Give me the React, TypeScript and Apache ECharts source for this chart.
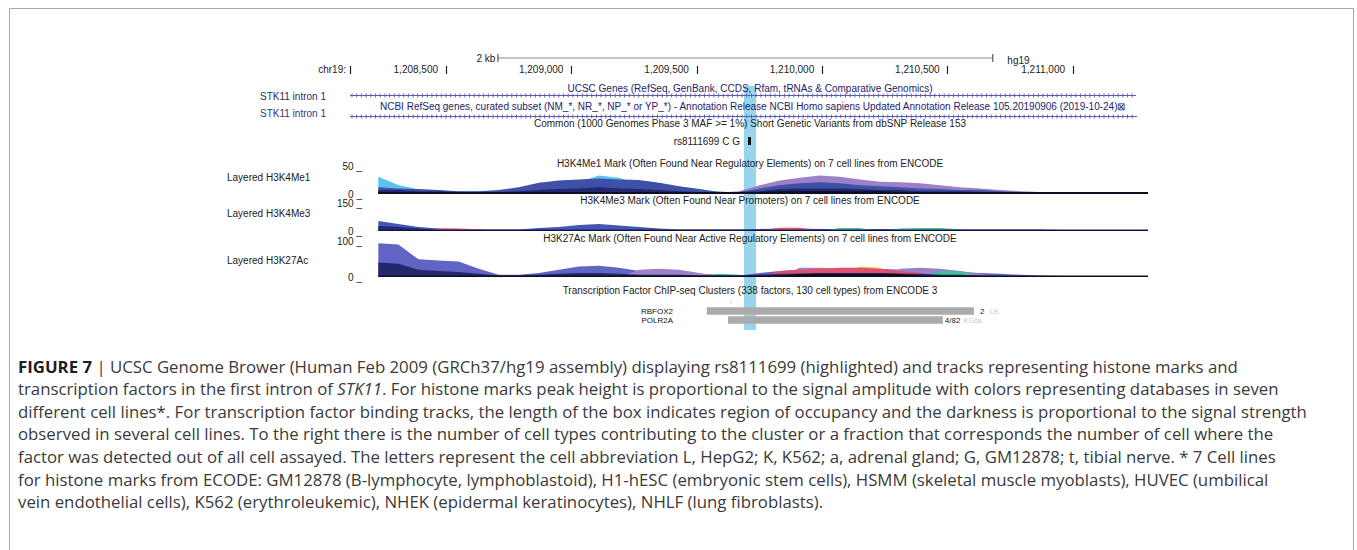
import React, { useEffect, useRef } from "react";
import * as echarts from "echarts";

// ---------- data ----------
const VIEW_START = 1208117;
const VIEW_END = 1211299;
const RULER_TICKS = [1208500, 1209000, 1209500, 1210000, 1210500, 1211000];
const SCALE_BAR = [1208707, 1210680];
const GENE_ROWS = ["UCSC Genes", "NCBI RefSeq"];
const GENE_START = [1208117, 1208117];
const GENE_END = [1211251, 1211255];
const SNP_NAME = "rs8111699 C G";
const SNP_RANGE = [1209704, 1209716];
const HIGHLIGHT = [1209688, 1209736];

const BIN_POS = [
  1208230, 1208310, 1208390, 1208470, 1208550, 1208630, 1208710, 1208790, 1208870, 1208950,
  1209030, 1209110, 1209190, 1209270, 1209350, 1209430, 1209510, 1209590, 1209670, 1209750,
  1209830, 1209910, 1209990, 1210070, 1210150, 1210230, 1210310, 1210390, 1210470, 1210550,
  1210630, 1210710, 1210790, 1210870, 1210950, 1211030, 1211110, 1211190, 1211270, 1211299,
];

// H3K4Me1 (0-50)
const ME1_NHEK = [5, 5, 5, 3.5, 3.5, 3.5, 5, 9, 14, 19, 24, 27.5, 24, 19, 14, 9, 5, 2.5, 5, 15.5, 24, 29, 33, 31, 26, 22, 21, 19, 15.5, 12, 10, 7, 5, 3.5, 3.5, 2.5, 2.5, 2.5, 2.5, 2.5];
const ME1_HUVEC = [31, 16, 8, 5, 5, 5, 5, 5, 7, 12, 22, 33, 29, 17, 10, 7, 5, 5, 2, 3.5, 3.5, 3.5, 3.5, 3.5, 3.5, 3.5, 3.5, 3.5, 3.5, 3.5, 3.5, 3.5, 3.5, 3.5, 3.5, 3.5, 3.5, 3.5, 3.5, 3.5];
const ME1_K562 = [12, 10, 9, 7, 5, 5, 7, 12, 20, 24, 26, 27.5, 26, 25, 20, 14, 9, 3.5, 3.5, 10, 15.5, 19, 21, 19, 15.5, 14, 12, 10, 9, 7, 7, 5, 3.5, 3.5, 3.5, 3.5, 2.5, 2.5, 2.5, 2.5];
const ME1_HSMM = [7, 7, 5, 5, 3.5, 3.5, 3.5, 5, 7, 9, 10, 12, 10, 9, 7, 5, 3.5, 3.5, 3.5, 5, 9, 10, 10, 10, 9, 7, 7, 5, 5, 5, 3.5, 3.5, 3.5, 3.5, 2.5, 2.5, 2.5, 2.5, 2.5, 2.5];
const ME1_GM = [3.5, 3.5, 3.5, 3.5, 3.5, 3.5, 3.5, 3.5, 3.5, 3.5, 3.5, 3.5, 3.5, 3.5, 3.5, 3.5, 3.5, 3.5, 3.5, 3.5, 5, 5, 5, 5, 5, 5, 3.5, 3.5, 3.5, 3.5, 3.5, 3.5, 3.5, 3.5, 3.5, 3.5, 3.5, 3.5, 3.5, 3.5];

// H3K4Me3 (0-150)
const ME3_K562 = [54, 38, 21, 13, 11, 8, 8, 8, 16, 21, 32, 38, 30, 21, 13, 8, 8, 8, 8, 11, 13, 13, 11, 11, 11, 11, 11, 11, 11, 8, 8, 8, 8, 8, 5, 5, 5, 5, 5, 5];
const ME3_GM = [0, 0, 0, 13, 13, 10, 0, 0, 0, 0, 0, 0, 0, 0, 0, 0, 0, 0, 0, 0, 18, 18, 0, 0, 0, 0, 0, 0, 0, 0, 0, 0, 0, 0, 0, 0, 0, 0, 0, 0];
const ME3_HSMM = [0, 0, 0, 0, 0, 0, 0, 0, 0, 0, 0, 0, 0, 0, 0, 0, 0, 0, 0, 0, 0, 0, 0, 16, 16, 0, 13, 16, 16, 10, 0, 0, 0, 0, 0, 0, 0, 0, 0, 0];
const ME3_NHLF = [27, 21, 13, 8, 8, 8, 8, 8, 8, 8, 8, 8, 8, 8, 8, 8, 8, 8, 8, 8, 8, 8, 8, 8, 8, 8, 8, 8, 8, 8, 8, 8, 8, 8, 8, 8, 8, 8, 8, 8];
const ME3_H1 = [4, 4, 4, 4, 4, 4, 4, 4, 4, 4, 4, 4, 4, 4, 4, 4, 4, 4, 4, 4, 4, 4, 4, 4, 4, 4, 4, 4, 4, 4, 4, 4, 4, 4, 4, 4, 4, 4, 4, 4];

// H3K27Ac (0-100)
const AC_K562 = [94, 90, 49, 46, 43, 23, 6, 6, 11, 20, 29, 31, 26, 17, 17, 14, 9, 6, 4, 11, 17, 20, 23, 23, 23, 23, 20, 20, 17, 14, 11, 9, 6, 4, 3, 3, 3, 3, 3, 3];
const AC_NHEK = [0, 0, 0, 0, 0, 0, 0, 0, 0, 0, 0, 0, 0, 20, 23, 20, 11, 0, 0, 0, 0, 26, 26, 23, 0, 0, 23, 26, 23, 17, 9, 0, 0, 0, 0, 0, 0, 0, 0, 0];
const AC_H1 = [0, 0, 0, 0, 0, 0, 0, 0, 0, 0, 0, 0, 0, 0, 0, 0, 0, 0, 0, 0, 0, 0, 0, 0, 29, 26, 0, 0, 0, 0, 0, 0, 0, 0, 0, 0, 0, 0, 0, 0];
const AC_GM = [0, 0, 0, 0, 0, 0, 0, 0, 0, 0, 0, 0, 0, 0, 0, 0, 0, 0, 0, 0, 17, 20, 23, 26, 26, 23, 17, 11, 0, 0, 0, 0, 0, 0, 0, 0, 0, 0, 0, 0];
const AC_HSMM = [0, 0, 0, 0, 0, 0, 0, 0, 0, 0, 0, 0, 0, 0, 0, 0, 0, 9, 6, 0, 0, 0, 0, 0, 0, 0, 0, 0, 17, 17, 0, 0, 0, 0, 0, 0, 0, 0, 0, 0];
const AC_NHLF = [40, 37, 20, 17, 14, 9, 4, 4, 6, 9, 11, 11, 9, 6, 6, 6, 4, 4, 4, 6, 9, 9, 11, 11, 11, 11, 9, 9, 6, 6, 4, 3, 3, 3, 3, 3, 3, 3, 3, 3];
const AC_HUVEC = [4, 4, 4, 4, 4, 4, 4, 4, 4, 4, 4, 4, 4, 4, 4, 4, 4, 4, 4, 4, 4, 9, 9, 9, 9, 9, 9, 4, 4, 4, 4, 4, 4, 4, 4, 4, 4, 4, 4, 4];

const TF_NAMES = ["RBFOX2", "POLR2A"];
const TF_START = [1209540, 1209624];
const TF_END = [1210605, 1210481];
const TF_SCORE = ["2", "4/82"];
const TF_CELLS = ["LK", "KGta"];

const CAPTION = [
  "{b|FIGURE 7} | UCSC Genome Brower (Human Feb 2009 (GRCh37/hg19 assembly) displaying rs8111699 (highlighted) and tracks representing histone marks and",
  "transcription factors in the first intron of {i|STK11}. For histone marks peak height is proportional to the signal amplitude with colors representing databases in seven",
  "different cell lines*. For transcription factor binding tracks, the length of the box indicates region of occupancy and the darkness is proportional to the signal strength",
  "observed in several cell lines. To the right there is the number of cell types contributing to the cluster or a fraction that corresponds the number of cell where the",
  "factor was detected out of all cell assayed. The letters represent the cell abbreviation L, HepG2; K, K562; a, adrenal gland; G, GM12878; t, tibial nerve. * 7 Cell lines",
  "for histone marks from ECODE: GM12878 (B-lymphocyte, lymphoblastoid), H1-hESC (embryonic stem cells), HSMM (skeletal muscle myoblasts), HUVEC (umbilical",
  "vein endothelial cells), K562 (erythroleukemic), NHEK (epidermal keratinocytes), NHLF (lung fibroblasts).",
];

// ---------- styles ----------
const FONT = "'Liberation Sans', Arial, sans-serif";
const CAP_FONT = "'Open Sans', 'Liberation Sans', Arial, sans-serif";
const CAP_SIZE = 16.8;
const GENE_COLOR = "#5a5ab2";
const NAVY_TXT = "#1d1d6a";
const DARK_TXT = "#1b1b1b";

function buildOption() {
  const L = 350;
  const R = 1357 - 1148;
  const gridDefs = [
    { top: 54, height: 8 }, // 0 scale bar
    { top: 60, height: 14 }, // 1 ruler
    { top: 86, height: 244 }, // 2 highlight
    { top: 85, height: 42 }, // 3 genes
    { top: 137, height: 8 }, // 4 snp
    { top: 166, height: 28 }, // 5 H3K4Me1
    { top: 203, height: 28 }, // 6 H3K4Me3
    { top: 241, height: 36 }, // 7 H3K27Ac
    { top: 306.5, height: 18 }, // 8 TF
  ];
  const grid = gridDefs.map((g) => ({ ...g, left: L, right: R }));

  const xAxis: any[] = gridDefs.map((_, i) => ({
    gridIndex: i,
    type: "value",
    min: VIEW_START,
    max: VIEW_END,
    show: false,
  }));
  xAxis[1] = {
    gridIndex: 1,
    type: "value",
    min: VIEW_START,
    max: VIEW_END,
    position: "bottom",
    axisLine: { show: false },
    splitLine: { show: false },
    axisTick: {
      show: true,
      inside: true,
      length: 8,
      lineStyle: { color: "#222", width: 1.2 },
      customValues: [VIEW_START, ...RULER_TICKS],
    },
    axisLabel: {
      show: true,
      customValues: [VIEW_START, ...RULER_TICKS],
      showMinLabel: true,
      showMaxLabel: true,
      margin: -10,
      align: "right",
      formatter: (v: number) =>
        v === VIEW_START ? "{c|chr19:}" : "{n|" + v.toLocaleString("en-US") + "}",
      rich: {
        c: { padding: [0, 4, 0, 0], fontSize: 10, color: DARK_TXT, fontFamily: FONT },
        n: { padding: [0, 8, 0, 0], fontSize: 10, color: DARK_TXT, fontFamily: FONT },
      },
    },
  };

  const hiddenY = (i: number) => ({ gridIndex: i, type: "value", min: 0, max: 1, show: false });
  const trackY = (i: number, max: number) => ({
    gridIndex: i,
    type: "value",
    min: 0,
    max,
    interval: max,
    offset: -12,
    axisLine: { show: false },
    axisTick: { show: false },
    splitLine: { show: false },
    axisLabel: {
      margin: 0,
      formatter: (v: number) => v + " _",
      fontSize: 10,
      color: DARK_TXT,
      fontFamily: FONT,
      verticalAlign: "middle",
      padding: [0, 0, 6, 0],
    },
  });
  const yAxis: any[] = [
    hiddenY(0),
    hiddenY(1),
    hiddenY(2),
    { gridIndex: 3, type: "category", data: GENE_ROWS, inverse: true, show: false },
    hiddenY(4),
    trackY(5, 50),
    trackY(6, 150),
    trackY(7, 100),
    {
      gridIndex: 8,
      type: "category",
      data: TF_NAMES,
      inverse: true,
      offset: -323,
      axisLine: { show: false },
      axisTick: { show: false },
      splitLine: { show: false },
      axisLabel: { interval: 0, margin: 0, fontSize: 8, lineHeight: 8, color: "#111", fontFamily: FONT },
    },
  ];

  const layer = (gi: number, values: number[], color: string) => ({
    type: "line",
    xAxisIndex: gi,
    yAxisIndex: gi,
    data: BIN_POS.map((p, i) => [p, values[i]]),
    symbol: "none",
    showSymbol: false,
    silent: true,
    lineStyle: { width: 0 },
    areaStyle: { color, opacity: 1 },
    z: 3,
  });

  const series: any[] = [
    // highlight band
    {
      type: "custom",
      xAxisIndex: 2,
      yAxisIndex: 2,
      z: 1,
      silent: true,
      data: [[HIGHLIGHT[0], HIGHLIGHT[1]]],
      encode: { x: [0, 1] },
      renderItem: (params: any, api: any) => {
        const cs = params.coordSys;
        const a = api.coord([api.value(0), 0.5]);
        const b = api.coord([api.value(1), 0.5]);
        return {
          type: "rect",
          shape: { x: a[0], y: cs.y, width: b[0] - a[0], height: cs.height },
          style: { fill: "#98d5ed" },
        };
      },
    },
    // scale bar
    {
      type: "line",
      xAxisIndex: 0,
      yAxisIndex: 0,
      silent: true,
      symbol: "rect",
      symbolSize: [1.2, 8],
      itemStyle: { color: "#555" },
      lineStyle: { color: "#888", width: 1 },
      data: [
        {
          value: [SCALE_BAR[0], 0.5],
          label: { show: true, position: "left", distance: 2, formatter: "2 kb", fontSize: 10, color: DARK_TXT, fontFamily: FONT },
        },
        {
          value: [SCALE_BAR[1], 0.5],
          label: { show: true, position: "right", distance: 14, offset: [0, 2], formatter: "hg19", fontSize: 10, color: DARK_TXT, fontFamily: FONT },
        },
      ],
    },
    // genes
    {
      type: "custom",
      xAxisIndex: 3,
      yAxisIndex: 3,
      silent: true,
      z: 3,
      data: GENE_ROWS.map((_, i) => [GENE_START[i], GENE_END[i], i]),
      encode: { x: [0, 1], y: 2 },
      renderItem: (params: any, api: any) => {
        const s = api.coord([api.value(0), api.value(2)]);
        const e = api.coord([api.value(1), api.value(2)]);
        const y = s[1];
        const children: any[] = [
          { type: "line", shape: { x1: s[0], y1: y, x2: e[0], y2: y }, style: { stroke: GENE_COLOR, lineWidth: 1 } },
        ];
        for (let x = s[0] + 2; x < e[0] - 1; x += 4.7) {
          children.push({
            type: "line",
            shape: { x1: x, y1: y - 2, x2: x, y2: y + 2 },
            style: { stroke: GENE_COLOR, lineWidth: 0.9 },
          });
        }
        return { type: "group", children };
      },
    },
    // SNP
    {
      type: "custom",
      xAxisIndex: 4,
      yAxisIndex: 4,
      silent: true,
      z: 3,
      data: [[SNP_RANGE[0], SNP_RANGE[1]]],
      encode: { x: [0, 1] },
      renderItem: (params: any, api: any) => {
        const a = api.coord([api.value(0), 1]);
        const b = api.coord([api.value(1), 0]);
        return {
          type: "group",
          children: [
            { type: "rect", shape: { x: a[0], y: a[1], width: b[0] - a[0], height: b[1] - a[1] }, style: { fill: "#111" } },
            {
              type: "text",
              x: a[0] - 8,
              y: (a[1] + b[1]) / 2,
              style: { text: SNP_NAME, fill: DARK_TXT, fontSize: 10, fontFamily: FONT, align: "right", verticalAlign: "middle" },
            },
          ],
        };
      },
    },
    // H3K4Me1
    layer(5, ME1_NHEK, "#9c80c8"),
    layer(5, ME1_HUVEC, "#5ac4ef"),
    layer(5, ME1_K562, "#3e50a8"),
    layer(5, ME1_HSMM, "#23276b"),
    layer(5, ME1_GM, "#0d0d24"),
    // H3K4Me3
    layer(6, ME3_K562, "#4356b4"),
    layer(6, ME3_GM, "#e0506c"),
    layer(6, ME3_HSMM, "#40bf9e"),
    layer(6, ME3_NHLF, "#23276b"),
    layer(6, ME3_H1, "#0d0d24"),
    // H3K27Ac
    layer(7, AC_K562, "#6064c4"),
    layer(7, AC_NHEK, "#9c80c8"),
    layer(7, AC_H1, "#f1c24c"),
    layer(7, AC_GM, "#e0506c"),
    layer(7, AC_HSMM, "#40bf9e"),
    layer(7, AC_NHLF, "#23276b"),
    layer(7, AC_HUVEC, "#0d0d24"),
    // TF clusters
    {
      type: "custom",
      xAxisIndex: 8,
      yAxisIndex: 8,
      silent: true,
      z: 3,
      data: TF_NAMES.map((_, i) => [TF_START[i], TF_END[i], i]),
      encode: { x: [0, 1], y: 2 },
      renderItem: (params: any, api: any) => {
        const i = params.dataIndex;
        const s = api.coord([api.value(0), api.value(2)]);
        const e = api.coord([api.value(1), api.value(2)]);
        const h = 7.5;
        return {
          type: "group",
          children: [
            { type: "rect", shape: { x: s[0], y: s[1] - h / 2, width: e[0] - s[0], height: h }, style: { fill: "#ababab" } },
            {
              type: "text",
              x: e[0] + (i === 0 ? 6 : 2),
              y: s[1],
              style: {
                text: "{a|" + TF_SCORE[i] + "}{b|" + TF_CELLS[i] + "}",
                align: "left",
                verticalAlign: "middle",
                rich: {
                  a: { fontSize: 8, lineHeight: 7, fontFamily: FONT, fill: "#222" },
                  b: { fontSize: 8, lineHeight: 7, fontFamily: FONT, fill: "#c8c8c8", padding: [0, 0, 0, i === 0 ? 5 : 3] },
                },
              },
            },
          ],
        };
      },
    },
  ];

  const txt = (text: string, x: number, y: number, opts: any = {}) => ({
    type: "text",
    x,
    y,
    z: 10,
    silent: true,
    style: {
      text,
      fill: opts.fill || DARK_TXT,
      fontSize: opts.fontSize || 10,
      fontFamily: opts.fontFamily || FONT,
      fontWeight: opts.fontWeight || "normal",
      align: opts.align || "left",
      verticalAlign: "middle",
      ...(opts.rich ? { rich: opts.rich } : {}),
    },
  });

  const CX = 750;
  const capRich = {
    b: { fontWeight: "bold", fontSize: CAP_SIZE, fontFamily: CAP_FONT, fill: "#1e1e1e" },
    i: { fontStyle: "italic", fontSize: CAP_SIZE, fontFamily: CAP_FONT, fill: "#3a3a3a" },
  };

  const graphic: any[] = [
    {
      type: "rect",
      z: 0,
      silent: true,
      shape: { x: 9.5, y: 8.5, width: 1344, height: 600 },
      style: { fill: "none", stroke: "#a9a9a9", lineWidth: 1 },
    },
    txt("UCSC Genes (RefSeq, GenBank, CCDS, Rfam, tRNAs & Comparative Genomics)", CX, 88.5, { align: "center", fill: NAVY_TXT }),
    txt("NCBI RefSeq genes, curated subset (NM_*, NR_*, NP_* or YP_*) - Annotation Release NCBI Homo sapiens Updated Annotation Release 105.20190906 (2019-10-24)\u22A0", 380, 106, { fill: NAVY_TXT }),
    txt("Common (1000 Genomes Phase 3 MAF >= 1%) Short Genetic Variants from dbSNP Release 153", CX, 123.5, { align: "center" }),
    txt("H3K4Me1 Mark (Often Found Near Regulatory Elements) on 7 cell lines from ENCODE", CX, 163, { align: "center" }),
    txt("H3K4Me3 Mark (Often Found Near Promoters) on 7 cell lines from ENCODE", CX, 200, { align: "center" }),
    txt("H3K27Ac Mark (Often Found Near Active Regulatory Elements) on 7 cell lines from ENCODE", CX, 238, { align: "center" }),
    txt("Transcription Factor ChIP-seq Clusters (338 factors, 130 cell types) from ENCODE 3", CX, 290, { align: "center" }),
    txt("STK11 intron 1", 260, 96, { fill: "#2d2d5e" }),
    txt("STK11 intron 1", 260, 113, { fill: "#34348c" }),
    txt("Layered H3K4Me1", 227, 177),
    txt("Layered H3K4Me3", 227, 213),
    txt("Layered H3K27Ac", 227, 260),
    txt("t", 730, 301, { fill: "#d0d0d0", fontSize: 7 }),
    ...CAPTION.map((line, k) =>
      txt(line, 18, 366 + k * 22.6, { fontSize: CAP_SIZE, fontFamily: CAP_FONT, fill: "#3a3a3a", rich: capRich })
    ),
  ];

  return {
    animation: false,
    backgroundColor: "#ffffff",
    grid,
    xAxis,
    yAxis,
    series,
    graphic,
  };
}

export default function App() {
  const ref = useRef<HTMLDivElement>(null);
  useEffect(() => {
    document.body.style.margin = "0";
    const chart = echarts.init(ref.current as HTMLDivElement, null, { renderer: "svg" });
    chart.setOption(buildOption() as any);
    return () => chart.dispose();
  }, []);
  return <div ref={ref} style={{ width: 1357, height: 550 }} />;
}
